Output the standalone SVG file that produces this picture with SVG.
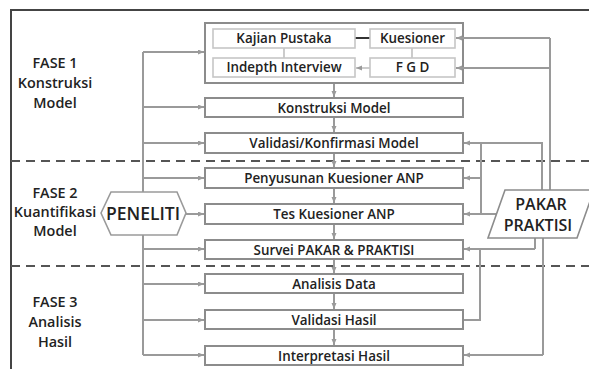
<svg xmlns="http://www.w3.org/2000/svg" width="589" height="369" viewBox="0 0 589 369">
<defs>
<style>
.frame{stroke:#444;stroke-width:2;fill:none}
.dash{stroke:#555;stroke-width:2;stroke-dasharray:9 6;fill:none}
.box{fill:#fff;stroke:#8c8c8c;stroke-width:2}
.ibox{fill:#fff;stroke:#c6c6c6;stroke-width:1.6}
.con{stroke:#9a9a9a;stroke-width:2;fill:none}
.lcon{stroke:#b0b0b0;stroke-width:1.3;fill:none}
.dcon{stroke:#333;stroke-width:2;fill:none}
.t{font-family:"Open Sans","Liberation Sans",sans-serif;font-weight:600;font-size:13.4px;fill:#222;text-anchor:middle}
.ph{font-family:"Open Sans","Liberation Sans",sans-serif;font-weight:600;font-size:14.4px;fill:#222;text-anchor:middle}
.big{font-family:"Open Sans","Liberation Sans",sans-serif;font-weight:600;font-size:17.5px;fill:#222;text-anchor:middle}
.pk{font-family:"Open Sans","Liberation Sans",sans-serif;font-weight:600;font-size:16px;fill:#222;text-anchor:middle}
</style>
<marker id="ah" markerUnits="userSpaceOnUse" markerWidth="8" markerHeight="7" refX="6" refY="2.5" orient="auto">
<path d="M0,0 L6,2.5 L0,5 z" fill="#9a9a9a"/>
</marker>
</defs>
<rect width="589" height="369" fill="#fff"/>

<g id="frame">
<path class="frame" d="M11,369 V10 H589"/>
<path class="dash" d="M11,161 H589"/>
<path class="dash" d="M11,266 H589"/>
</g>

<g id="phase1">
<text class="ph" x="55" y="68">FASE 1</text>
<text class="ph" x="55" y="88">Konstruksi</text>
<text class="ph" x="55" y="108">Model</text>
</g>
<g id="phase2">
<text class="ph" x="55" y="198">FASE 2</text>
<text class="ph" x="55" y="217">Kuantifikasi</text>
<text class="ph" x="55" y="236">Model</text>
</g>
<g id="phase3">
<text class="ph" x="55" y="307">FASE 3</text>
<text class="ph" x="55" y="327">Analisis</text>
<text class="ph" x="55" y="347">Hasil</text>
</g>

<g id="group1">
<rect class="box" x="205" y="23" width="258" height="60"/>
</g>

<g id="connectors">
<path class="con" d="M143,52 V355"/>
<path class="con" marker-end="url(#ah)" d="M143,52 H204"/>
<path class="con" marker-end="url(#ah)" d="M143,107 H204"/>
<path class="con" marker-end="url(#ah)" d="M143,143 H204"/>
<path class="con" marker-end="url(#ah)" d="M143,178 H204"/>
<path class="con" marker-end="url(#ah)" d="M186,214 H204"/>
<path class="con" marker-end="url(#ah)" d="M143,249 H204"/>
<path class="con" marker-end="url(#ah)" d="M143,284 H204"/>
<path class="con" marker-end="url(#ah)" d="M143,320 H204"/>
<path class="con" marker-end="url(#ah)" d="M143,355 H204"/>
<path class="con" marker-end="url(#ah)" d="M334,84 V97"/>
<path class="con" marker-end="url(#ah)" d="M334,118 V132"/>
<path class="con" marker-end="url(#ah)" d="M334,154 V167"/>
<path class="con" marker-end="url(#ah)" d="M334,189 V203"/>
<path class="con" marker-end="url(#ah)" d="M334,225 V239"/>
<path class="con" marker-end="url(#ah)" d="M334,260 V273"/>
<path class="con" marker-end="url(#ah)" d="M334,294 V309"/>
<path class="con" marker-end="url(#ah)" d="M334,330 V345"/>
<path class="dcon" d="M355,38 H370"/>
<path class="lcon" d="M284,48 V58"/>
<path class="lcon" d="M412,48 V58"/>
<path class="lcon" marker-end="url(#ah)" d="M370,68 H356"/>
<path class="con" d="M550,38 V190"/>
<path class="con" marker-end="url(#ah)" d="M550,38 H456"/>
<path class="con" marker-end="url(#ah)" d="M550,68 H456"/>
<path class="con" d="M542,190 V143 H481 V214"/>
<path class="con" marker-end="url(#ah)" d="M481,143 H464"/>
<path class="con" marker-end="url(#ah)" d="M481,178 H464"/>
<path class="con" marker-end="url(#ah)" d="M496,214 H464"/>
<path class="con" d="M535,237 V249"/>
<path class="con" marker-end="url(#ah)" d="M535,249 H464"/>
<path class="con" d="M463,320 H480 V249"/>
<path class="con" d="M543,237 V355"/>
<path class="con" marker-end="url(#ah)" d="M543,355 H464"/>
</g>

<g id="kajian">
<rect class="ibox" x="213" y="29" width="142" height="19"/>
<text class="t" x="284" y="43">Kajian Pustaka</text>
</g>
<g id="kuesioner">
<rect class="ibox" x="370" y="29" width="85" height="19"/>
<text class="t" x="412.5" y="43">Kuesioner</text>
</g>
<g id="indepth">
<rect class="ibox" x="213" y="58" width="142" height="19"/>
<text class="t" x="284" y="72">Indepth Interview</text>
</g>
<g id="fgd">
<rect class="ibox" x="370" y="58" width="85" height="19"/>
<text class="t" x="412.5" y="72">F G D</text>
</g>

<g id="konstruksi">
<rect class="box" x="205" y="98" width="258" height="19"/>
<text class="t" x="334" y="112.5">Konstruksi Model</text>
</g>
<g id="validasi">
<rect class="box" x="205" y="133" width="258" height="20"/>
<text class="t" x="334" y="148">Validasi/Konfirmasi Model</text>
</g>
<g id="penyusunan">
<rect class="box" x="205" y="168" width="258" height="20"/>
<text class="t" x="334" y="183">Penyusunan Kuesioner ANP</text>
</g>
<g id="tes">
<rect class="box" x="205" y="204" width="258" height="20"/>
<text class="t" x="334" y="219">Tes Kuesioner ANP</text>
</g>
<g id="survei">
<rect class="box" x="205" y="240" width="258" height="19"/>
<text class="t" x="334" y="254.5">Survei PAKAR &amp; PRAKTISI</text>
</g>
<g id="analisis">
<rect class="box" x="205" y="274" width="258" height="19"/>
<text class="t" x="334" y="288.5">Analisis Data</text>
</g>
<g id="validasihasil">
<rect class="box" x="205" y="310" width="258" height="19"/>
<text class="t" x="334" y="324.5">Validasi Hasil</text>
</g>
<g id="interpretasi">
<rect class="box" x="205" y="346" width="258" height="19"/>
<text class="t" x="334" y="360.5">Interpretasi Hasil</text>
</g>

<g id="peneliti">
<polygon points="101,213 111,192 177,192 186,213 177,235 111,235" fill="#fff" stroke="#9a9a9a" stroke-width="1.6"/>
<text class="big" x="143" y="220">PENELITI</text>
</g>
<g id="pakar">
<polygon points="505,190 594,190 577,238 488,238" fill="#fff" stroke="#8c8c8c" stroke-width="1.6"/>
<text class="pk" x="541" y="210">PAKAR</text>
<text class="pk" x="538" y="231">PRAKTISI</text>
</g>
</svg>
